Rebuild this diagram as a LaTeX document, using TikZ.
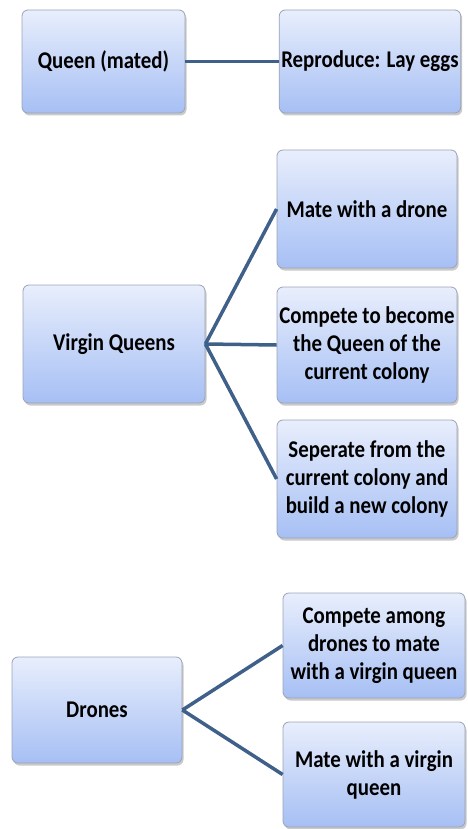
\documentclass[tikz,border=0pt]{standalone}
\usepackage{fontspec}
\setmainfont{Carlito}[FakeStretch=0.87]
\usetikzlibrary{shadows}
\definecolor{boxtop}{HTML}{E8EEFC}
\definecolor{boxbot}{HTML}{A6BFF4}
\definecolor{boxline}{HTML}{9BA3B5}
\definecolor{linkblue}{HTML}{3F6089}
\begin{document}
\begin{tikzpicture}[x=1pt,y=-1pt,font=\fontsize{24}{28}\selectfont\bfseries,
  card/.style={draw=boxline,line width=.8pt,rounded corners=6pt,top color=boxtop,bottom color=boxbot,
    align=center,inner sep=2pt,drop shadow={shadow xshift=1.5pt,shadow yshift=-2.5pt,opacity=.35,fill=black!60}},
  link/.style={draw=linkblue,line width=3.5pt}]
\useasboundingbox (0,0) rectangle (467,829);
% queen
\node[card,minimum width=163pt,minimum height=103pt] (qm) at (103.5,61.5) {Queen (mated)};
\node[card,minimum width=180pt,minimum height=103pt] (eggs) at (370,61.5) {Reproduce: Lay eggs};
\draw[link] (qm.east)--(eggs.west);
% virgin queens
\node[card,minimum width=182pt,minimum height=118pt] (vq) at (114,344) {Virgin Queens};
\node[card,minimum width=180pt,minimum height=118pt] (mate) at (367,209) {Mate with a drone};
\node[card,minimum width=180pt,minimum height=116pt] (become) at (367,345) {Compete to become\\the Queen of the\\current colony};
\node[card,minimum width=180pt,minimum height=118pt] (sep) at (367,479) {Seperate from the\\current colony and\\build a new colony};
\foreach \t in {mate,become,sep}{\draw[link] (vq.east)--(\t.west);}
% drones
\node[card,minimum width=170pt,minimum height=106pt] (dr) at (97,710) {Drones};
\node[card,minimum width=182pt,minimum height=105pt] (among) at (374,645.5) {Compete among\\drones to mate\\with a virgin queen};
\node[card,minimum width=182pt,minimum height=105pt] (vqmate) at (374,774.5) {Mate with a virgin\\queen};
\foreach \t in {among,vqmate}{\draw[link] (dr.east)--(\t.west);}
\end{tikzpicture}
\end{document}
